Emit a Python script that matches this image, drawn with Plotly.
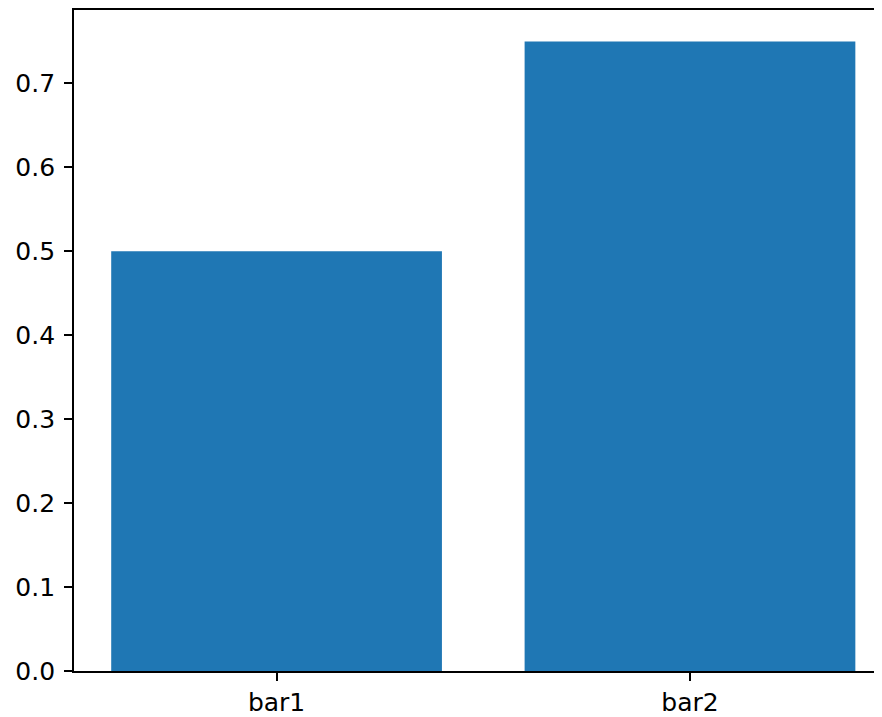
import plotly.graph_objects as go

categories = ["bar1", "bar2"]
values = [0.5, 0.75]
y_tickvals = [0.0, 0.1, 0.2, 0.3, 0.4, 0.5, 0.6, 0.7]
y_ticktext = ["0.0", "0.1", "0.2", "0.3", "0.4", "0.5", "0.6", "0.7"]

fig = go.Figure(
    go.Bar(
        x=list(range(len(categories))),
        y=values,
        width=0.8,
        marker=dict(color="#1f77b4", line=dict(width=0)),
    )
)

font = dict(family="DejaVu Sans", size=25, color="black")

# page body has an 8px margin; compensate so the plot lands where the reference has it
fig.update_layout(
    width=874,
    height=709,
    margin=dict(l=66, r=0, t=0, b=45),
    paper_bgcolor="white",
    plot_bgcolor="white",
    showlegend=False,
    font=font,
    xaxis=dict(
        range=[-0.49, 1.4645],
        tickmode="array",
        tickvals=list(range(len(categories))),
        ticktext=categories,
        showgrid=False,
        zeroline=False,
        showline=True,
        linecolor="black",
        linewidth=1.8,
        mirror=True,
        ticks="outside",
        ticklen=8,
        tickwidth=1.8,
        tickcolor="black",
        tickfont=font,
    ),
    yaxis=dict(
        range=[0, 0.7875],
        tickmode="array",
        tickvals=y_tickvals,
        ticktext=y_ticktext,
        showgrid=False,
        zeroline=False,
        showline=True,
        linecolor="black",
        linewidth=1.8,
        mirror=False,
        ticks="outside",
        ticklen=8,
        tickwidth=1.8,
        tickcolor="black",
        tickfont=font,
        ticklabelstandoff=4,
    ),
)

fig.write_html("out.html")
